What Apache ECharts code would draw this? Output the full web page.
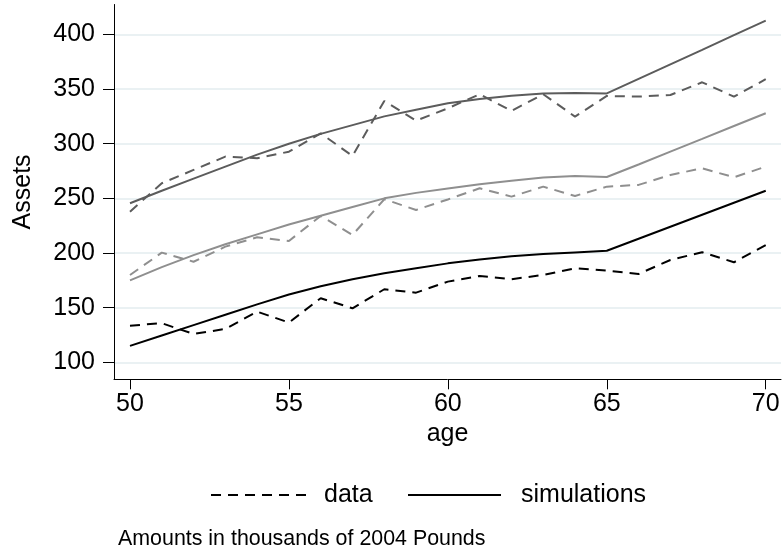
<!DOCTYPE html>
<html>
<head>
<meta charset="utf-8">
<script src="https://cdn.jsdelivr.net/npm/echarts@6/dist/echarts.min.js"></script>
<style>
  html, body { margin: 0; padding: 0; background: #fff; }
  #chart { width: 784px; height: 553px; }
</style>
</head>
<body>
<div id="chart"></div>
<script>
// Ages on the horizontal axis
const ages = [50, 51, 52, 53, 54, 55, 56, 57, 58, 59, 60, 61, 62, 63, 64, 65, 66, 67, 68, 69, 70];

// Asset profiles (thousands of 2004 pounds): observed data and model simulations
const dataLow  = [133.5, 135.7, 125.9, 130.5, 146.3, 136.3, 158.6, 149.4, 166.8, 163.7, 173.8, 179.0, 176.0, 179.9, 186.0, 183.8, 180.8, 193.6, 200.7, 191.5, 207.3];
const simLow   = [115.0, 124.5, 134.0, 143.5, 153.0, 162.0, 169.5, 176.0, 181.5, 186.0, 190.5, 194.0, 197.0, 199.0, 200.5, 202.0, 213.0, 224.0, 235.0, 246.0, 257.0];
const dataMid  = [179.9, 200.3, 192.0, 205.8, 214.4, 211.0, 233.9, 216.5, 249.2, 239.4, 249.0, 259.2, 251.6, 260.7, 252.2, 260.7, 262.3, 271.4, 277.5, 269.3, 279.0];
const simMid   = [175.0, 187.0, 198.0, 208.0, 217.0, 226.0, 234.0, 242.0, 250.0, 255.0, 259.0, 263.0, 266.0, 269.0, 270.5, 269.5, 281.0, 292.7, 304.4, 316.2, 327.9];
const dataHigh = [237.8, 263.8, 276.0, 288.2, 286.7, 292.7, 309.5, 288.8, 339.1, 321.1, 332.4, 345.3, 330.0, 345.3, 324.8, 343.7, 343.1, 344.6, 356.2, 343.1, 359.0];
const simHigh  = [245.5, 257.0, 268.0, 279.0, 290.0, 300.0, 309.0, 317.0, 325.0, 331.0, 337.0, 341.0, 344.0, 346.0, 346.5, 346.0, 359.3, 372.6, 385.9, 399.3, 412.6];

// Axis tick values
const xTicks = [50, 55, 60, 65, 70];
const yTicks = [100, 150, 200, 250, 300, 350, 400];

const FONT = '"Liberation Sans", Arial, sans-serif';
const DASH = [10, 7];

function pairs(vals) {
  return ages.map((a, i) => [a, vals[i]]);
}

function line(name, vals, color, dashed) {
  return {
    name: name,
    type: 'line',
    data: pairs(vals),
    showSymbol: false,
    symbol: 'none',
    silent: true,
    animation: false,
    lineStyle: { color: color, width: 2, type: dashed ? DASH : 'solid', cap: 'butt' },
    itemStyle: { color: color }
  };
}

// Legend shows only the line sample, no marker
const legendBase = {
  top: 482, padding: 0,
  itemHeight: 14,
  selectedMode: false,
  itemStyle: { opacity: 0, borderWidth: 0 }
};

const chart = echarts.init(document.getElementById('chart'), null, { renderer: 'canvas' });

chart.setOption({
  backgroundColor: '#ffffff',
  animation: false,
  textStyle: { fontFamily: FONT },
  grid: { left: 114, right: 3, top: 4.5, bottom: 173.7, containLabel: false },
  xAxis: {
    type: 'value',
    min: 49.497,
    max: 70.48,
    name: 'age',
    nameLocation: 'middle',
    nameGap: 39,
    nameTextStyle: { fontFamily: FONT, fontSize: 25, color: '#000', verticalAlign: 'top' },
    axisLine: { show: true, onZero: false, lineStyle: { color: '#000', width: 1 } },
    axisTick: { show: true, length: 10, customValues: xTicks, lineStyle: { color: '#000', width: 1 } },
    axisLabel: { customValues: xTicks, margin: 12, fontFamily: FONT, fontSize: 25, color: '#000' },
    splitLine: { show: false }
  },
  yAxis: {
    type: 'value',
    min: 84.4,
    max: 427.4,
    name: 'Assets',
    nameLocation: 'middle',
    nameGap: 78,
    nameRotate: 90,
    nameTextStyle: { fontFamily: FONT, fontSize: 25, color: '#000' },
    axisLine: { show: true, onZero: false, lineStyle: { color: '#000', width: 1 } },
    axisTick: { show: true, length: 11, customValues: yTicks, lineStyle: { color: '#000', width: 1 } },
    axisLabel: { customValues: yTicks, margin: 19, fontFamily: FONT, fontSize: 25, color: '#000' },
    splitLine: { show: true, lineStyle: { color: '#eaf1f3', width: 2 } }
  },
  legend: [
    Object.assign({}, legendBase, {
      data: ['data'],
      left: 210,
      itemWidth: 100,
      textStyle: { fontFamily: FONT, fontSize: 25, color: '#000', lineHeight: 26, padding: [0, 0, 0, 8] }
    }),
    Object.assign({}, legendBase, {
      data: ['simulations'],
      left: 407,
      itemWidth: 93,
      textStyle: { fontFamily: FONT, fontSize: 25, color: '#000', lineHeight: 26, padding: [0, 0, 0, 15] }
    })
  ],
  graphic: [
    {
      type: 'text',
      left: 118, top: 529,
      style: { text: 'Amounts in thousands of 2004 Pounds', font: '21.4px ' + FONT, fill: '#000' }
    }
  ],
  series: [
    line('data', dataLow, '#000000', true),
    line('simulations', simLow, '#000000', false),
    line('data', dataMid, '#8f8f8f', true),
    line('simulations', simMid, '#8f8f8f', false),
    line('data', dataHigh, '#5c5c5c', true),
    line('simulations', simHigh, '#5c5c5c', false)
  ]
});
</script>
</body>
</html>
